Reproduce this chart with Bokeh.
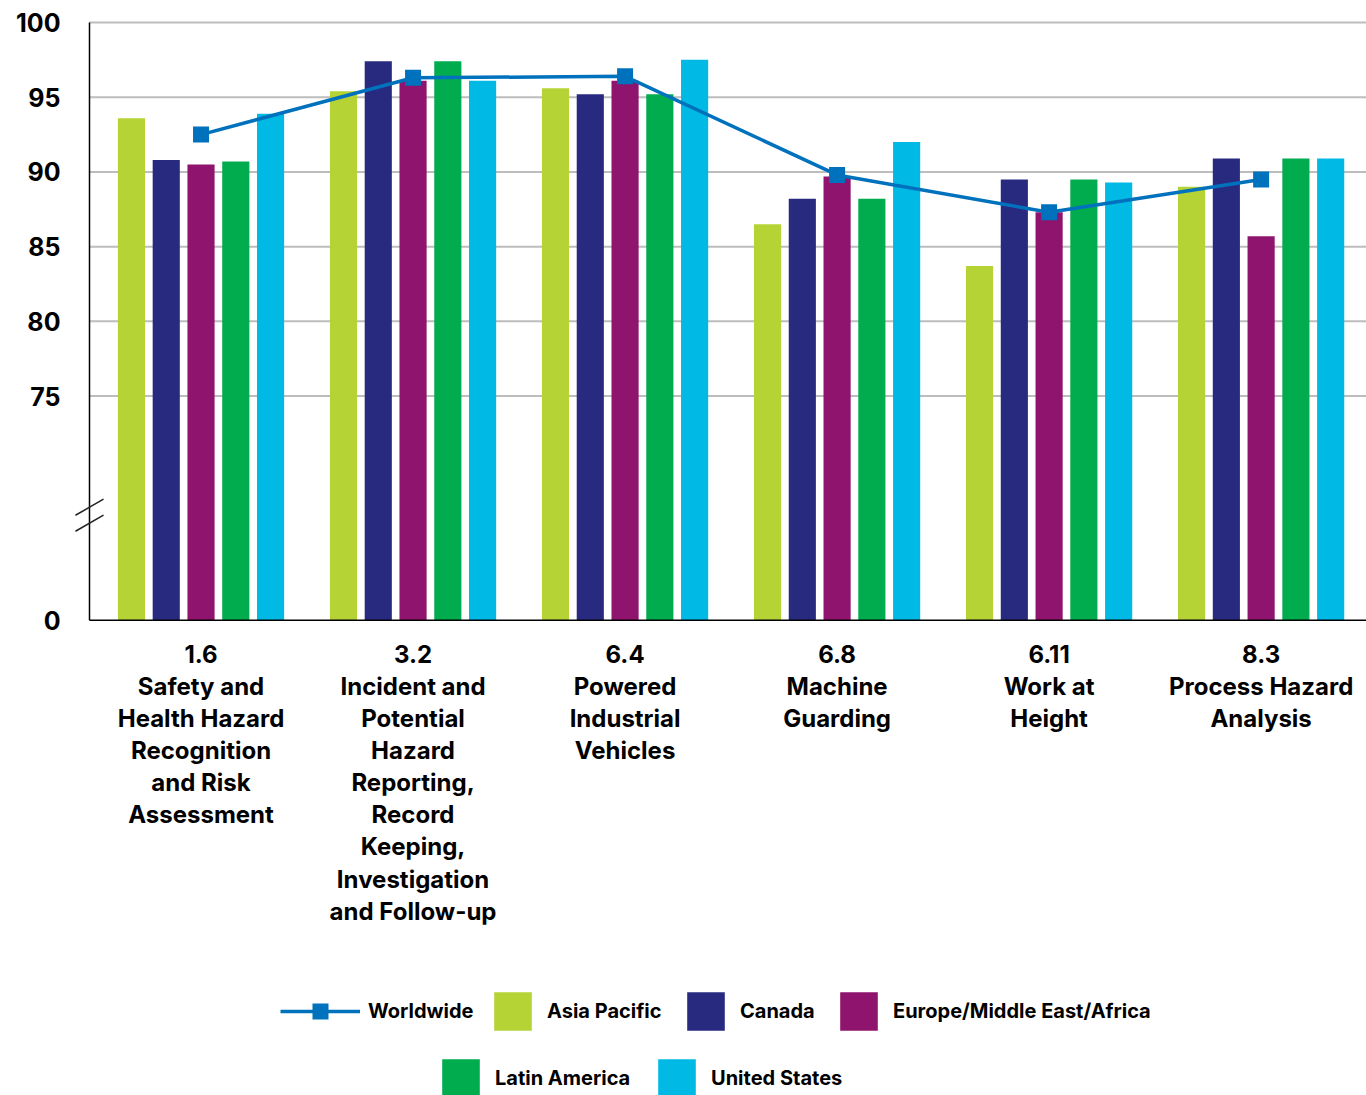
from bokeh.plotting import figure
from bokeh.models import (FixedTicker, Range1d, Legend, LegendItem,
                          ColumnDataSource)
from bokeh.transform import dodge
from bokeh.core.properties import value
from bokeh.embed import file_html
from bokeh.resources import INLINE

# ---------------- data ----------------
categories = [
    "1.6\nSafety and\nHealth Hazard\nRecognition\nand Risk\nAssessment",
    "3.2\nIncident and\nPotential\nHazard\nReporting,\nRecord\nKeeping,\nInvestigation\nand Follow-up",
    "6.4\nPowered\nIndustrial\nVehicles",
    "6.8\nMachine\nGuarding",
    "6.11\nWork at\nHeight",
    "8.3\nProcess Hazard\nAnalysis",
]
series_names = ["Asia Pacific", "Canada", "Europe/Middle East/Africa",
                "Latin America", "United States"]
asia_pacific = [93.6, 95.4, 95.6, 86.5, 83.7, 89.0]
canada = [90.8, 97.4, 95.2, 88.2, 89.5, 90.9]
europe_mea = [90.5, 96.1, 96.1, 89.7, 87.3, 85.7]
latin_america = [90.7, 97.4, 95.2, 88.2, 89.5, 90.9]
united_states = [93.9, 96.1, 97.5, 92.0, 89.3, 90.9]
worldwide = [92.5, 96.3, 96.4, 89.8, 87.3, 89.5]

y_ticks = [60, 75, 80, 85, 90, 95, 100]
y_tick_labels = ["0", "75", "80", "85", "90", "95", "100"]
grid_ticks = [75, 80, 85, 90, 95, 100]
axis_floor = 60          # position of the "0" tick below the axis break
break_marks = [67.56, 66.49]

# ---------------- layout / style ----------------
colors = ["#B5D334", "#282A80", "#8E146E", "#00AC4D", "#00B9E5"]
ww_color = "#0071BC"
FONT = "Inter"
X_LEFT, X_RIGHT = -0.6156, 5.497   # frame spans the area left of the axis too
Y_BOTTOM, Y_TOP = 28.19, 100.67    # frame extends down to hold labels/legend
AXIS_X = -0.526                    # where the value axis is drawn

x = list(range(len(categories)))
data = dict(x=x, ww=worldwide, cat=categories,
            base=[axis_floor] * len(categories))
series_values = [asia_pacific, canada, europe_mea, latin_america, united_states]
keys = ["s0", "s1", "s2", "s3", "s4"]
for k, v in zip(keys, series_values):
    data[k] = v
src = ColumnDataSource(data)

p = figure(width=1366, height=1095,
           x_range=Range1d(X_LEFT, X_RIGHT), y_range=Range1d(Y_BOTTOM, Y_TOP),
           output_backend="svg", toolbar_location=None, x_axis_location=None,
           min_border_left=70, min_border_top=12, min_border_right=0,
           min_border_bottom=0)
p.outline_line_color = None
p.background_fill_color = "white"
p.border_fill_color = "white"
p.xgrid.grid_line_color = None
p.ygrid.grid_line_color = None

# grid lines (start at the value axis)
p.segment(x0=[AXIS_X] * len(grid_ticks), x1=[X_RIGHT] * len(grid_ticks),
          y0=grid_ticks, y1=grid_ticks, line_color="#BDBDBD", line_width=2)

pitch = 0.164
bw = 0.128
bar_renderers = []
for i, (k, c) in enumerate(zip(keys, colors)):
    r = p.vbar(x=dodge("x", (i - 2) * pitch, range=p.x_range), top=k,
               bottom=axis_floor, width=bw, source=src, fill_color=c,
               line_color=None)
    bar_renderers.append(r)

ln = p.line("x", "ww", source=src, line_color=ww_color, line_width=3.5)
sc = p.scatter("x", "ww", source=src, marker="square", size=16,
               fill_color=ww_color, line_color=None)

# axis lines
p.segment(x0=[AXIS_X, AXIS_X], y0=[axis_floor, axis_floor],
          x1=[X_RIGHT, AXIS_X], y1=[axis_floor, max(y_ticks)],
          line_color="black", line_width=1.5)

# axis break marks
hx, hy = 0.066, 0.536
p.segment(x0=[AXIS_X - hx] * 2, x1=[AXIS_X + hx] * 2,
          y0=[b - hy for b in break_marks], y1=[b + hy for b in break_marks],
          line_color="#222222", line_width=1.5)

# category labels
p.text(x="x", y="base", text="cat", source=src, text_align="center",
       text_baseline="top", y_offset=20, text_font=value(FONT),
       text_font_style="bold", text_font_size="24px", text_line_height=1.105,
       text_color="black")

# value axis (labels only)
p.yaxis.ticker = FixedTicker(ticks=y_ticks)
p.yaxis.major_label_overrides = {t: l for t, l in zip(y_ticks, y_tick_labels)}
p.yaxis.major_tick_line_color = None
p.yaxis.minor_tick_line_color = None
p.yaxis.axis_line_color = None
p.yaxis.major_label_standoff = 4
p.yaxis.major_label_text_font = FONT
p.yaxis.major_label_text_font_style = "bold"
p.yaxis.major_label_text_font_size = "25px"
p.yaxis.major_label_text_color = "black"

# legends: one per entry, placed (x, y) in px from the frame's bottom-left
leg_common = dict(padding=0, margin=0,
                  border_line_color=None, background_fill_alpha=0,
                  label_text_font=FONT, label_text_font_style="bold",
                  label_text_font_size="20px", label_text_color="black")
entries = [("Worldwide", [ln, sc], 80, 40, 8, (210, 64))]
slots = [(419, 60), (612, 60), (765, 60), (367, -7), (583, -7)]
for i, name in enumerate(series_names):
    entries.append((name, [bar_renderers[i]], 47, 48, 11, slots[i]))
for label, rends, gw, gh, stand, loc in entries:
    opts = dict(leg_common)
    opts.update(glyph_width=gw, glyph_height=gh, label_standoff=stand)
    p.add_layout(Legend(items=[LegendItem(label=label, renderers=rends)],
                        location=loc, **opts))

open("out.html", "w").write(file_html(p, INLINE))
